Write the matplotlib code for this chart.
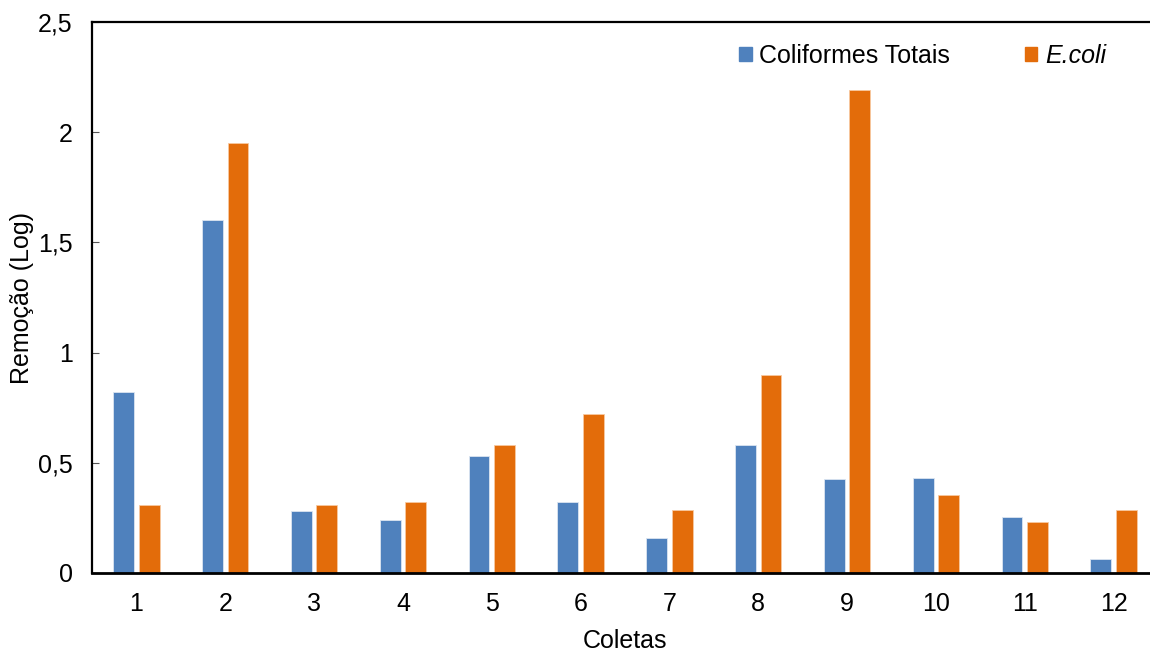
import numpy as np
import matplotlib.pyplot as plt
from matplotlib.patches import Patch

plt.rcParams['font.family'] = ['Liberation Sans', 'DejaVu Sans']

# Remoção log por coleta
coletas = [str(i) for i in range(1, 13)]
coliformes = [0.82, 1.60, 0.28, 0.24, 0.53, 0.32, 0.16, 0.58, 0.425, 0.43, 0.255, 0.065]
ecoli = [0.31, 1.95, 0.31, 0.32, 0.58, 0.72, 0.285, 0.90, 2.19, 0.355, 0.23, 0.285]
yticks = [0, 0.5, 1, 1.5, 2, 2.5]
ytick_labels = ['0', '0,5', '1', '1,5', '2', '2,5']

blue = '#4F81BD'
orange = '#E36C0A'

fig = plt.figure(figsize=(11.5, 6.53), dpi=100)
ax = fig.add_axes([92 / 1150, 80 / 653, 1066 / 1150, 551 / 653])

x = np.arange(1, len(coletas) + 1)
w = 0.235
ax.bar(x - 0.143, coliformes, w, color=blue, edgecolor='#dbe5f1', linewidth=0.6)
ax.bar(x + 0.143, ecoli, w, color=orange, edgecolor='#f8c9a0', linewidth=0.6)

ax.set_xlim(0.5, 12.5)
ax.set_ylim(0, 2.5)
ax.set_xticks(x)
ax.set_xticklabels(coletas, fontsize=18)
ax.set_yticks(yticks)
ax.set_yticklabels(ytick_labels, fontsize=18)
ax.tick_params(axis='x', length=0, pad=14)
ax.tick_params(axis='y', length=5, width=0.8, color='#555555', direction='in', pad=14)

for side in ['left', 'top', 'bottom']:
    ax.spines[side].set_color('black')
    ax.spines[side].set_linewidth(1.6)
ax.spines['right'].set_visible(False)
ax.spines['bottom'].set_linewidth(2)

ax.set_xlabel('Coletas', fontsize=18, labelpad=9)
ax.set_ylabel('Remoção (Log)', fontsize=18)
ax.yaxis.set_label_coords(-0.0544, 0.5)

handles = [Patch(color=blue), Patch(color=orange)]
leg = ax.legend(handles, ['Coliformes Totais', 'E.coli'], ncol=2, frameon=False,
                fontsize=18, loc='upper left', bbox_to_anchor=(739 / 1150, 1 - 44 / 653),
                bbox_transform=fig.transFigure, handlelength=0.5, handleheight=0.5,
                handletextpad=0.3, columnspacing=3.0, borderaxespad=0, borderpad=0)
leg.get_texts()[1].set_fontstyle('italic')

fig.savefig('out.png', dpi=100)
